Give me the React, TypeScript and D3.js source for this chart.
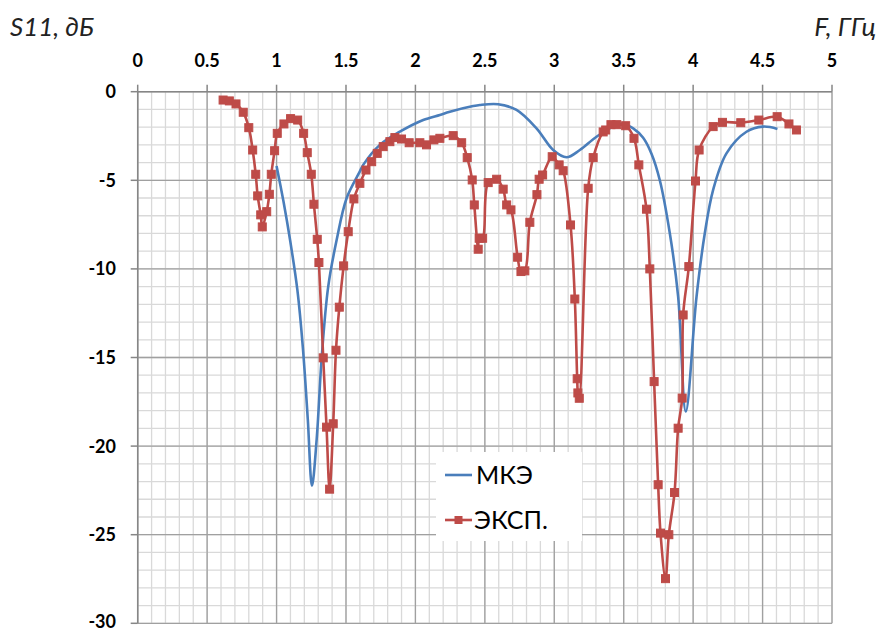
import React from "react";
import * as d3 from "d3";

// МКЭ (simulation) curve: frequency, GHz / S11, dB
const femFreq = [1.0, 1.05, 1.1, 1.15, 1.19, 1.225, 1.255, 1.289, 1.325, 1.372, 1.433, 1.505, 1.6, 1.624, 1.744, 1.888, 2.056, 2.176, 2.248, 2.416, 2.464, 2.596, 2.728, 2.872, 2.992, 3.088, 3.184, 3.304, 3.448, 3.496, 3.568, 3.64, 3.7, 3.76, 3.832, 3.892, 3.947, 4.024, 4.084, 4.144, 4.24, 4.384, 4.504, 4.607];
const femS11 = [-4.19, -6.2, -8.5, -11.2, -14.5, -18.5, -22.24, -19.6, -15.0, -11.0, -8.36, -6.0, -4.5, -4.13, -3.0, -2.26, -1.6, -1.31, -1.13, -0.81, -0.75, -0.71, -1.03, -2.07, -3.29, -3.7, -3.29, -2.54, -1.88, -1.82, -2.07, -2.6, -3.5, -5.0, -7.99, -11.56, -18.05, -11.6, -7.99, -5.54, -3.48, -2.26, -1.97, -2.1];

// ЭКСП. (measurement) points
const expFreq = [0.615, 0.66, 0.708, 0.76, 0.8, 0.828, 0.85, 0.864, 0.886, 0.897, 0.929, 0.948, 0.962, 0.986, 1.005, 1.053, 1.101, 1.152, 1.195, 1.221, 1.25, 1.269, 1.293, 1.305, 1.336, 1.36, 1.382, 1.408, 1.428, 1.452, 1.483, 1.516, 1.557, 1.6, 1.644, 1.685, 1.725, 1.768, 1.816, 1.852, 1.9, 1.955, 2.032, 2.08, 2.133, 2.176, 2.272, 2.333, 2.373, 2.409, 2.424, 2.452, 2.459, 2.484, 2.524, 2.585, 2.632, 2.657, 2.688, 2.736, 2.76, 2.788, 2.824, 2.875, 2.891, 2.916, 2.985, 3.035, 3.064, 3.117, 3.148, 3.165, 3.17, 3.18, 3.244, 3.28, 3.352, 3.37, 3.408, 3.45, 3.514, 3.574, 3.609, 3.664, 3.688, 3.719, 3.748, 3.765, 3.801, 3.825, 3.866, 3.892, 3.921, 3.928, 3.969, 4.017, 4.043, 4.144, 4.211, 4.343, 4.473, 4.605, 4.69, 4.744];
const expS11 = [-0.47, -0.52, -0.69, -1.16, -2.03, -3.29, -4.66, -5.88, -6.95, -7.63, -6.77, -5.79, -4.66, -3.33, -2.35, -1.82, -1.52, -1.6, -2.35, -3.44, -4.66, -6.35, -8.33, -9.64, -15.02, -18.93, -22.43, -18.74, -14.59, -12.16, -9.83, -7.9, -6.05, -5.17, -4.42, -3.95, -3.48, -3.1, -2.82, -2.59, -2.67, -2.88, -2.88, -3.0, -2.72, -2.63, -2.48, -2.88, -3.72, -4.98, -6.39, -8.89, -8.27, -8.27, -5.13, -4.94, -5.5, -6.39, -6.67, -9.34, -10.15, -10.11, -7.37, -5.81, -4.94, -4.7, -3.67, -4.13, -4.46, -7.52, -11.7, -16.2, -17.0, -17.3, -5.45, -3.72, -2.27, -2.16, -1.86, -1.86, -1.92, -2.63, -4.13, -6.63, -10.0, -16.36, -22.18, -24.91, -27.48, -25.0, -22.62, -18.99, -17.29, -12.6, -9.87, -5.04, -3.29, -1.97, -1.73, -1.75, -1.6, -1.41, -1.82, -2.16];

const xTicks = [0, 0.5, 1, 1.5, 2, 2.5, 3, 3.5, 4, 4.5, 5];
const yTicks = [0, -5, -10, -15, -20, -25, -30];
const seriesNames = ["МКЭ", "ЭКСП."];

const BLUE = "#4A7EBB";
const RED = "#BE4B48";
const FONT = "Lato, 'Open Sans', 'Noto Sans', sans-serif";

export default function App() {
  const W = 880;
  const H = 631;
  const x = d3.scaleLinear().domain([0, 5]).range([137.7, 832]);
  const y = d3.scaleLinear().domain([0, -30]).range([91.7, 623.3]);

  const minorX = d3.range(0, 51).map((i) => i / 10);
  const minorY = d3.range(0, 31).map((i) => -i);

  const line = d3
    .line<[number, number]>()
    .x((d) => x(d[0]))
    .y((d) => y(d[1]))
    .curve(d3.curveCatmullRom.alpha(0.5));

  const femPts: [number, number][] = femFreq.map((f, i) => [f, femS11[i]]);
  const expPts: [number, number][] = expFreq.map((f, i) => [f, expS11[i]]);

  const [x0, x1] = x.range();
  const [y0, y1] = y.range();
  const ms = 8;

  return (
    <svg
      width={W}
      height={H}
      style={{ position: "absolute", left: 0, top: 0, background: "#fff" }}
      fontFamily={FONT}
    >
      {/* minor grid */}
      {minorX.map((v) => (
        <line key={"mx" + v} x1={x(v)} x2={x(v)} y1={y0} y2={y1} stroke="#d9d9d9" strokeWidth={1.3} />
      ))}
      {minorY.map((v) => (
        <line key={"my" + v} x1={x0} x2={x1} y1={y(v)} y2={y(v)} stroke="#d9d9d9" strokeWidth={1.3} />
      ))}
      {/* major grid */}
      {xTicks.map((v) => (
        <line key={"gx" + v} x1={x(v)} x2={x(v)} y1={y0} y2={y1} stroke="#a0a0a0" strokeWidth={1.3} />
      ))}
      {yTicks.map((v) => (
        <line key={"gy" + v} x1={x0} x2={x1} y1={y(v)} y2={y(v)} stroke="#a0a0a0" strokeWidth={1.3} />
      ))}

      {/* axes */}
      <line x1={x0} x2={x1} y1={y0} y2={y0} stroke="#868686" strokeWidth={1.5} />
      <line x1={x0} x2={x0} y1={y0} y2={y1} stroke="#868686" strokeWidth={1.5} />
      {xTicks.map((v) => (
        <g key={"xt" + v}>
          <line x1={x(v)} x2={x(v)} y1={y0} y2={y0 - 7} stroke="#868686" strokeWidth={1.5} />
          <text x={x(v)} y={67} textAnchor="middle" fontSize={18} fontWeight="bold" fill="#000">
            {String(v)}
          </text>
        </g>
      ))}
      {yTicks.map((v) => (
        <g key={"yt" + v}>
          <line x1={x0 - 7} x2={x0} y1={y(v)} y2={y(v)} stroke="#868686" strokeWidth={1.5} />
          <text
            x={116}
            y={Math.min(y(v) + 6.5, 628)}
            textAnchor="end"
            fontSize={18}
            fontWeight="bold"
            fill="#000"
          >
            {String(v)}
          </text>
        </g>
      ))}

      {/* axis titles */}
      <text x={10} y={36} fontSize={26} fontStyle="italic" fill="#222">
        S11, дБ
      </text>
      <text x={876} y={36} fontSize={26} fontStyle="italic" fill="#222" textAnchor="end">
        F, ГГц
      </text>

      {/* series */}
      <path d={line(femPts) || ""} fill="none" stroke={BLUE} strokeWidth={2.6} strokeLinejoin="round" />
      <path d={line(expPts) || ""} fill="none" stroke={RED} strokeWidth={2.6} strokeLinejoin="round" />
      {expPts.map((p, i) => (
        <rect
          key={"m" + i}
          x={x(p[0]) - ms / 2}
          y={y(p[1]) - ms / 2}
          width={ms}
          height={ms}
          fill={RED}
          stroke={RED}
          strokeWidth={1}
        />
      ))}

      {/* legend */}
      <rect x={436} y={452} width={146} height={89} fill="#fff" />
      <line x1={445} x2={472} y1={475} y2={475} stroke={BLUE} strokeWidth={2.6} />
      <text x={476} y={484} fontSize={25} fill="#000">
        {seriesNames[0]}
      </text>
      <line x1={445} x2={472} y1={520} y2={520} stroke={RED} strokeWidth={2.6} />
      <rect x={458.5 - ms / 2} y={520 - ms / 2} width={ms} height={ms} fill={RED} />
      <text x={474} y={529} fontSize={25} fill="#000">
        {seriesNames[1]}
      </text>
    </svg>
  );
}
